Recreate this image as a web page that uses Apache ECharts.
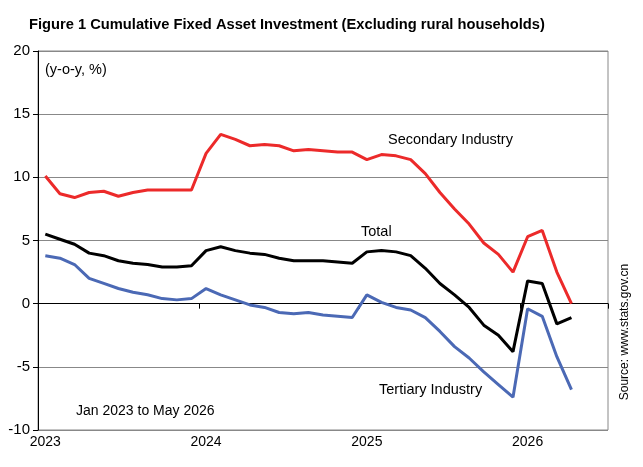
<!DOCTYPE html>
<html>
<head>
<meta charset="utf-8">
<script src="https://cdn.jsdelivr.net/npm/echarts@6/dist/echarts.min.js"></script>
<style>
  html, body { margin: 0; padding: 0; background: #fff; }
  #main { width: 643px; height: 467px; }
</style>
</head>
<body>
<div id="main"></div>
<script>
// periods: Jan-Feb, Mar ... Dec for each year, then two empty slots at the end
var periods = [
  '2023-02','2023-03','2023-04','2023-05','2023-06','2023-07','2023-08','2023-09','2023-10','2023-11','2023-12',
  '2024-02','2024-03','2024-04','2024-05','2024-06','2024-07','2024-08','2024-09','2024-10','2024-11','2024-12',
  '2025-02','2025-03','2025-04','2025-05','2025-06','2025-07','2025-08','2025-09','2025-10','2025-11','2025-12',
  '2026-02','2026-03','2026-04','2026-05','2026-06','2026-07'
];
var yearLabels = ['2023', '2024', '2025', '2026'];

var secondary = [
  10.1, 8.7, 8.4, 8.8, 8.9, 8.5, 8.8, 9.0, 9.0, 9.0, 9.0,
  11.9, 13.4, 13.0, 12.5, 12.6, 12.5, 12.1, 12.2, 12.1, 12.0, 12.0,
  11.4, 11.8, 11.7, 11.4, 10.3, 8.8, 7.5, 6.3, 4.8, 3.9, 2.5,
  5.3, 5.8, 2.5, 0.0
];
var total = [
  5.5, 5.1, 4.7, 4.0, 3.8, 3.4, 3.2, 3.1, 2.9, 2.9, 3.0,
  4.2, 4.5, 4.2, 4.0, 3.9, 3.6, 3.4, 3.4, 3.4, 3.3, 3.2,
  4.1, 4.2, 4.1, 3.8, 2.8, 1.6, 0.7, -0.3, -1.7, -2.5, -3.8,
  1.8, 1.6, -1.6, -1.1
];
var tertiary = [
  3.8, 3.6, 3.1, 2.0, 1.6, 1.2, 0.9, 0.7, 0.4, 0.3, 0.4,
  1.2, 0.7, 0.3, -0.1, -0.3, -0.7, -0.8, -0.7, -0.9, -1.0, -1.1,
  0.7, 0.1, -0.3, -0.5, -1.1, -2.2, -3.4, -4.3, -5.4, -6.4, -7.4,
  -0.4, -1.0, -4.2, -6.8
];

var font = '"Liberation Sans", Arial, sans-serif';
var yearStart = function (i) { return i % 11 === 0 && i < 36; };

var chart = echarts.init(document.getElementById('main'));
chart.setOption({
  animation: false,
  backgroundColor: '#fff',
  textStyle: { fontFamily: font, color: '#000' },
  grid: {
    left: 38, right: 35, top: 51, bottom: 37,
    show: true, borderColor: '#888', borderWidth: 1
  },
  xAxis: [
    {
      // axis line sitting on zero, with year-boundary ticks
      type: 'category',
      data: periods,
      boundaryGap: true,
      axisLine: { onZero: true, lineStyle: { color: '#000', width: 1 } },
      axisTick: {
        show: true, length: 5, lineStyle: { color: '#000' },
        interval: function (i) { return i === 11 || i === 22 || i === 33; }
      },
      axisLabel: { show: false },
      splitLine: { show: false }
    },
    {
      // year labels along the bottom
      type: 'category',
      data: periods,
      position: 'bottom',
      boundaryGap: true,
      axisLine: { show: false, onZero: false },
      axisTick: { show: false },
      axisLabel: {
        interval: function (i) { return yearStart(i); },
        formatter: function (v, i) { return yearLabels[Math.floor(i / 11)]; },
        fontSize: 14, color: '#000', fontFamily: font, margin: 5
      },
      splitLine: { show: false }
    }
  ],
  yAxis: {
    type: 'value',
    min: -10, max: 20, interval: 5,
    axisLine: { show: true, lineStyle: { color: '#000' } },
    axisTick: { show: true, length: 5, lineStyle: { color: '#000' } },
    axisLabel: { fontSize: 15, color: '#000', fontFamily: font, margin: 8 },
    splitLine: { show: true, lineStyle: { color: '#888', width: 1 } }
  },
  series: [
    {
      name: 'Secondary Industry', type: 'line', data: secondary,
      symbol: 'none', lineStyle: { color: '#ec2a2a', width: 3 }, z: 3
    },
    {
      name: 'Total', type: 'line', data: total,
      symbol: 'none', lineStyle: { color: '#000', width: 3 }, z: 4
    },
    {
      name: 'Tertiary Industry', type: 'line', data: tertiary,
      symbol: 'none', lineStyle: { color: '#4b69b5', width: 3 }, z: 2
    }
  ],
  graphic: [
    { type: 'text', left: 29, top: 17,
      style: { text: 'Figure 1 Cumulative Fixed Asset Investment (Excluding rural households)',
        fontSize: 14.7, fontWeight: 'bold', fontFamily: font, fill: '#000' } },
    { type: 'text', x: 45, y: 70,
      style: { text: '(y-o-y, %)', fontSize: 14.5, fontFamily: font, fill: '#000', verticalAlign: 'middle' } },
    { type: 'text', x: 388, y: 140,
      style: { text: 'Secondary Industry', fontSize: 14.5, fontFamily: font, fill: '#000', verticalAlign: 'middle' } },
    { type: 'text', x: 361, y: 232,
      style: { text: 'Total', fontSize: 14.5, fontFamily: font, fill: '#000', verticalAlign: 'middle' } },
    { type: 'text', x: 379, y: 390,
      style: { text: 'Tertiary Industry', fontSize: 14.5, fontFamily: font, fill: '#000', verticalAlign: 'middle' } },
    { type: 'text', x: 76, y: 411,
      style: { text: 'Jan 2023 to May 2026', fontSize: 14, fontFamily: font, fill: '#000', verticalAlign: 'middle' } },
    { type: 'text', x: 625, y: 332, rotation: Math.PI / 2,
      style: { text: 'Source: www.stats.gov.cn', fontSize: 12, fontFamily: font, fill: '#000',
        align: 'center', verticalAlign: 'middle' } }
  ]
});
</script>
</body>
</html>
